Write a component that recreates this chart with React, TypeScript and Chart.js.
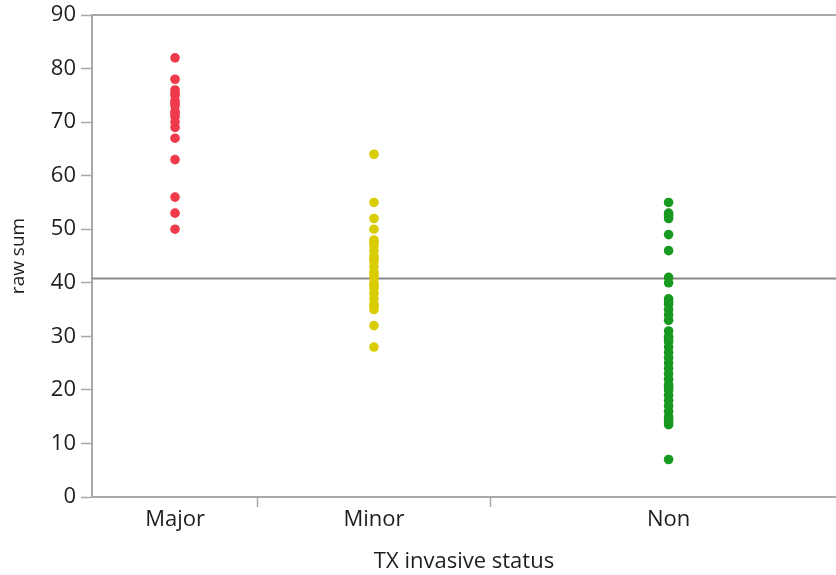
import React, { useEffect, useRef } from "react";
import { Chart, registerables } from "chart.js";

Chart.register(...registerables);

// Categories and their horizontal positions (fraction of plot width)
const categories = ["Major", "Minor", "Non"];
const categoryX = [0.1116, 0.379, 0.775];
const separatorX = [0.223, 0.536];

// Values (raw sum) per category
const majorValues = [82, 78, 76, 75.5, 75, 74, 73.5, 73, 72, 71.5, 71, 70, 69, 67, 63, 56, 53, 50];
const minorValues = [64, 55, 52, 50, 48, 47.5, 47, 46, 45, 44.5, 44, 43, 42, 41.5, 41, 40, 39.5, 39, 38, 37, 36, 35.5, 35, 32, 28];
const nonValues = [55, 53, 52.5, 52, 49, 46, 41, 40, 37, 36.5, 36, 35, 34, 33, 31, 30, 29.5, 29, 28, 27, 26, 25, 24, 23, 22, 21, 20.5, 20, 19, 18, 17, 16, 15, 14.5, 14, 13.5, 7];

// Reference line (grand mean)
const referenceValue = 40.8;

// Y axis ticks
const yMin = 0;
const yMax = 90;
const yStep = 10;

const seriesColors = ["#EE3A4B", "#D9CC00", "#17981F"];

const FONT = "'Open Sans', 'DejaVu Sans', sans-serif";
const TEXT = "#1e1e1e";
const AXIS = "#a8a8a8";

export default function App() {
  const ref = useRef<HTMLCanvasElement | null>(null);

  useEffect(() => {
    if (!ref.current) return;
    const seriesValues = [majorValues, minorValues, nonValues];
    const scatterSets = seriesValues.map((vals, i) => ({
      type: "scatter" as const,
      label: categories[i],
      data: vals.map((v) => ({ x: categoryX[i], y: v })),
      backgroundColor: seriesColors[i],
      borderWidth: 0,
      pointRadius: 4.8,
      order: 1,
    }));
    const tickPositions = [...categoryX, ...separatorX].sort((a, b) => a - b);
    const isCategoryTick = (v: number) => categoryX.some((c) => Math.abs(c - v) < 1e-6);

    const chart = new Chart(ref.current, {
      type: "scatter",
      data: {
        datasets: [
          {
            type: "line" as const,
            label: "mean",
            data: [
              { x: 0, y: referenceValue },
              { x: 1, y: referenceValue },
            ],
            borderColor: "#8a8a8a",
            borderWidth: 2,
            pointRadius: 0,
            order: 2,
          },
          ...scatterSets,
        ] as any,
      },
      options: {
        animation: false,
        responsive: false,
        events: [],
        layout: { autoPadding: false, padding: { top: 15, right: 0, left: 0, bottom: 0 } },
        plugins: { legend: { display: false }, tooltip: { enabled: false } },
        scales: {
          x: {
            type: "linear",
            position: "bottom",
            min: 0,
            max: 1,
            afterFit: (s: any) => {
              s.height = 78;
              s.paddingLeft = 0;
              s.paddingRight = 0;
            },
            afterBuildTicks: (s: any) => {
              s.ticks = tickPositions.map((v) => ({ value: v }));
            },
            ticks: {
              autoSkip: false,
              maxRotation: 0,
              padding: 0,
              color: TEXT,
              font: { family: FONT, size: 22 },
              callback: (v: any) => {
                const idx = categoryX.findIndex((c) => Math.abs(c - Number(v)) < 1e-6);
                return idx >= 0 ? categories[idx] : "";
              },
            },
            grid: {
              drawOnChartArea: false,
              tickLength: 10,
              tickWidth: 1.5,
              tickColor: (ctx: any) => (ctx.tick && isCategoryTick(ctx.tick.value) ? "rgba(0,0,0,0)" : AXIS),
            },
            border: { display: true, color: AXIS, width: 2 },
            title: {
              display: true,
              text: "TX invasive status",
              color: TEXT,
              font: { family: FONT, size: 22 },
              padding: { top: 0, bottom: 0 },
            },
          },
          xTop: {
            type: "linear",
            position: "top",
            min: 0,
            max: 1,
            afterFit: (s: any) => {
              s.height = 0;
              s.paddingLeft = 0;
              s.paddingRight = 0;
            },
            ticks: { display: false },
            grid: { display: false },
            border: { display: true, color: AXIS, width: 2 },
          },
          y: {
            type: "linear",
            min: yMin,
            max: yMax,
            afterFit: (s: any) => {
              s.width = 92;
              s.paddingTop = 0;
              s.paddingBottom = 0;
            },
            ticks: {
              stepSize: yStep,
              padding: 5,
              color: TEXT,
              font: { family: FONT, size: 22 },
            },
            grid: {
              drawOnChartArea: false,
              tickLength: 11,
              tickWidth: 1.5,
              tickColor: AXIS,
            },
            border: { display: true, color: AXIS, width: 2 },
            title: {
              display: true,
              text: "raw sum",
              color: TEXT,
              font: { family: FONT, size: 19 },
              padding: { top: 7, bottom: 0 },
            },
          },
        },
      } as any,
    });
    return () => chart.destroy();
  }, []);

  return (
    <div style={{ position: "absolute", left: 0, top: 0, width: 836, height: 575, background: "#fff" }}>
      <canvas ref={ref} width={836} height={575} />
    </div>
  );
}
